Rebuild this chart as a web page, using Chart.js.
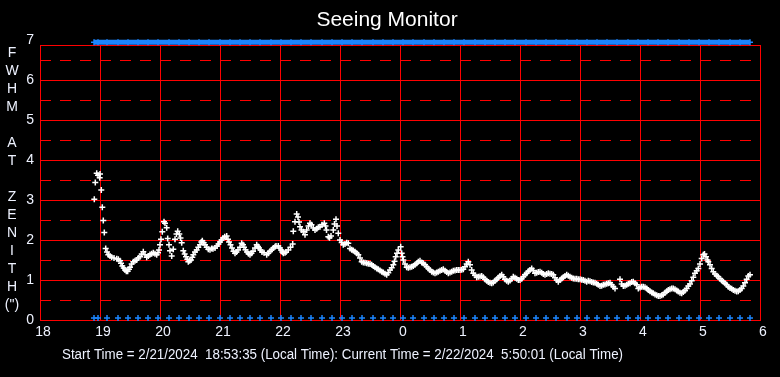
<!DOCTYPE html>
<html lang="en">
<head>
<meta charset="UTF-8">
<title>Seeing Monitor</title>
<script src="https://cdn.jsdelivr.net/npm/chart.js"></script>
<style>
    html, body { margin: 0; padding: 0; background: #000; }
    #wrap { width: 780px; height: 377px; }
</style>
</head>
<body>
<div id="wrap"><canvas id="seeingChart" width="780" height="377"></canvas></div>
<script>
// time is minutes after 18:00 local (run started 2/21/2024 18:53:35)
const seeingMinutes = [
    54.3, 55.3, 56.7, 58, 59.7, 60, 61.3, 62.3, 63.3, 64.3, 65.7, 67, 68.3, 70, 71.7, 74, 76.7, 78.3, 80, 81,
    82.3, 83.7, 85, 86.3, 87.7, 89, 90, 91.7, 93.3, 95, 96.7, 98.3, 100, 101.7, 103.3, 105, 106.7, 108.3, 110, 111.7,
    113.3, 115, 116.7, 118, 119, 120, 121, 122.3, 124, 125, 126.7, 127.7, 129, 130, 131.7, 133.3, 135, 136.5, 137.7, 139.3,
    140.5, 141.7, 143.3, 144.7, 146, 147.3, 148.3, 149.7, 151, 152.3, 153.3, 155, 156.7, 158.3, 160, 161.3, 162.3, 163.7, 165, 166.7,
    168.3, 170, 171.7, 173, 175, 177, 178.5, 180, 181.5, 183, 184.7, 186.7, 188, 189, 190.5, 192, 193.5, 195, 196.5, 198,
    200, 201.7, 203, 204, 205.5, 207, 208.5, 210, 211.5, 213, 215, 216.7, 218, 219, 220.5, 222, 224, 226.7, 228.3, 230,
    231.7, 233.3, 235, 236, 238.3, 240, 241, 242.3, 243.3, 245, 246, 248.3, 250.5, 252.7, 253.3, 255, 256.7, 258, 259, 260,
    261.5, 263.3, 265, 266.7, 268.5, 270, 271.5, 273.3, 275, 276.7, 278.3, 280, 282, 284.3, 285.5, 286.5, 288.3, 289.5, 291, 293.3,
    294.5, 296, 297, 298.3, 300, 301.7, 303.3, 305, 306.7, 308.3, 310, 311.7, 313.3, 315, 316.7, 318.3, 320, 321.7, 323.3, 325,
    326.7, 328.3, 330, 331.7, 333.3, 335, 336.7, 338.3, 340, 341.7, 343.3, 345, 346.7, 348.3, 350, 351.7, 353.3, 354.5, 355.7, 357,
    358.3, 360.7, 361.7, 362.5, 363.3, 365, 366.7, 368.3, 370, 371.7, 373.3, 375, 376.7, 378.3, 380, 381.7, 383.3, 385, 386.7, 388.3,
    390, 391.7, 393.3, 395, 396.7, 398.3, 400, 401.7, 403.3, 405, 406.7, 408.3, 410, 411.7, 413.3, 415, 416.7, 418.3, 420, 421.7,
    423.3, 425, 426.7, 428.3, 430, 431.7, 433.3, 435, 436.7, 438.3, 440, 441.7, 443.3, 445, 446.7, 448.3, 450, 451.7, 453.3, 455,
    456.7, 458.3, 460, 461.7, 463.3, 465, 466.7, 468.3, 470, 471.7, 473.3, 475, 476.7, 478.3, 480, 481.7, 483.3, 485, 486.7, 488.3,
    490, 491.7, 493.3, 495, 496.7, 498.3, 500, 501.7, 503.3, 505, 506.7, 508.3, 510, 511.7, 513.3, 515, 516.7, 518.3, 520, 521.7,
    523.3, 525, 526.7, 528.3, 530, 531.7, 533.3, 535, 536.7, 538.3, 540, 541.7, 543.3, 545, 546.7, 548.3, 550, 551.7, 553.3, 555,
    556.7, 558.3, 560, 561.7, 563.3, 565, 566.7, 568.3, 570, 571.7, 573.3, 575, 580, 581.7, 583.3, 585, 586.7, 588.3, 590, 591.7,
    593.3, 595, 596.7, 598.3, 600, 601.7, 603.3, 605, 606.7, 608.3, 610, 611.7, 613.3, 615, 616.7, 618.3, 620, 621.7, 623.3, 625,
    626.7, 628.3, 630, 631.7, 633.3, 635, 636.7, 638.3, 640, 641.7, 643.3, 645, 646.7, 648.3, 650, 651.7, 653.3, 655, 656.7, 658.3,
    660, 661.7, 663.3, 664.5, 666, 667.5, 668.3, 670, 671.7, 673.3, 675, 676.7, 678.3, 680, 681.7, 683.3, 685, 686.7, 688.3, 690,
    691.7, 693.3, 695, 696.7, 698.3, 700, 701.7, 703.3, 705, 706.7, 708.3, 710
];
const seeingFwhm = [
    3.02, 3.44, 3.67, 3.62, 3.56, 3.65, 3.25, 2.82, 2.49, 2.19, 1.79, 1.70, 1.63, 1.60, 1.57, 1.55, 1.53, 1.52, 1.48, 1.42,
    1.35, 1.30, 1.25, 1.22, 1.22, 1.27, 1.32, 1.40, 1.46, 1.48, 1.50, 1.55, 1.58, 1.65, 1.71, 1.63, 1.57, 1.60, 1.64, 1.66,
    1.68, 1.66, 1.63, 1.68, 1.75, 1.88, 2.02, 2.21, 2.46, 2.42, 2.31, 2.04, 1.88, 1.73, 1.60, 1.77, 2.02, 2.15, 2.22, 2.15,
    2.05, 1.93, 1.73, 1.65, 1.58, 1.52, 1.46, 1.48, 1.50, 1.57, 1.63, 1.70, 1.75, 1.82, 1.88, 1.95, 1.98, 1.93, 1.88, 1.82,
    1.77, 1.76, 1.79, 1.78, 1.80, 1.85, 1.90, 1.95, 2.00, 2.05, 2.08, 2.10, 2.02, 1.95, 1.88, 1.80, 1.72, 1.67, 1.70, 1.75,
    1.82, 1.92, 1.88, 1.82, 1.76, 1.70, 1.66, 1.63, 1.67, 1.72, 1.80, 1.88, 1.84, 1.80, 1.75, 1.70, 1.68, 1.63, 1.67, 1.72,
    1.76, 1.80, 1.83, 1.85, 1.85, 1.80, 1.75, 1.70, 1.67, 1.68, 1.70, 1.75, 1.82, 1.90, 2.22, 2.46, 2.65, 2.58, 2.45, 2.33,
    2.25, 2.21, 2.13, 2.25, 2.35, 2.42, 2.38, 2.30, 2.25, 2.28, 2.32, 2.33, 2.38, 2.42, 2.35, 2.25, 2.08, 2.06, 2.10, 2.25,
    2.40, 2.52, 2.35, 2.17, 2.00, 1.94, 1.88, 1.90, 1.93, 1.92, 1.79, 1.76, 1.74, 1.71, 1.67, 1.63, 1.55, 1.46, 1.44, 1.43,
    1.42, 1.41, 1.40, 1.38, 1.35, 1.32, 1.29, 1.27, 1.24, 1.21, 1.19, 1.16, 1.13, 1.18, 1.25, 1.31, 1.38, 1.47, 1.58, 1.67,
    1.75, 1.83, 1.67, 1.58, 1.50, 1.40, 1.32, 1.31, 1.32, 1.33, 1.35, 1.38, 1.42, 1.46, 1.48, 1.44, 1.42, 1.38, 1.33, 1.29,
    1.25, 1.21, 1.19, 1.17, 1.19, 1.21, 1.23, 1.25, 1.27, 1.23, 1.20, 1.17, 1.19, 1.21, 1.23, 1.24, 1.25, 1.25, 1.25, 1.26,
    1.27, 1.33, 1.40, 1.46, 1.38, 1.25, 1.17, 1.12, 1.07, 1.08, 1.09, 1.10, 1.07, 1.02, 0.98, 0.95, 0.93, 0.92, 0.94, 0.98,
    1.02, 1.06, 1.10, 1.13, 1.08, 1.02, 0.98, 0.96, 0.99, 1.03, 1.08, 1.06, 1.03, 1.00, 1.00, 1.03, 1.08, 1.13, 1.17, 1.22,
    1.25, 1.29, 1.24, 1.17, 1.18, 1.20, 1.21, 1.18, 1.15, 1.13, 1.15, 1.17, 1.16, 1.15, 1.13, 1.06, 1.00, 0.96, 1.00, 1.04,
    1.07, 1.10, 1.13, 1.11, 1.08, 1.06, 1.04, 1.03, 1.03, 1.02, 1.02, 1.01, 1.00, 0.98, 0.96, 0.98, 0.97, 0.95, 0.94, 0.93,
    0.91, 0.88, 0.85, 0.86, 0.88, 0.89, 0.91, 0.92, 0.93, 0.88, 0.83, 0.79, 1.02, 0.90, 0.85, 0.86, 0.88, 0.91, 0.92, 0.95,
    0.96, 0.92, 0.88, 0.79, 0.81, 0.83, 0.83, 0.82, 0.79, 0.75, 0.72, 0.69, 0.67, 0.64, 0.62, 0.60, 0.60, 0.62, 0.64, 0.68,
    0.72, 0.75, 0.77, 0.79, 0.79, 0.77, 0.74, 0.71, 0.68, 0.67, 0.70, 0.74, 0.79, 0.85, 0.90, 0.98, 1.07, 1.17, 1.23, 1.29,
    1.40, 1.54, 1.63, 1.65, 1.58, 1.50, 1.46, 1.38, 1.29, 1.21, 1.15, 1.11, 1.08, 1.03, 0.99, 0.96, 0.92, 0.88, 0.83, 0.80,
    0.78, 0.75, 0.73, 0.71, 0.72, 0.75, 0.79, 0.85, 0.93, 1.02, 1.10, 1.13
];

// blue status markers (sample times, minutes after 18:00)
const statusMinutes = [
    54, 58, 67, 78, 88, 98, 108, 118, 129, 139, 149, 159, 169, 180, 190, 200, 210, 220, 231, 241,
    251, 261, 271, 282, 292, 302, 312, 322, 333, 343, 353, 363, 373, 384, 394, 404, 414, 424, 435, 445,
    455, 465, 475, 486, 496, 506, 516, 527, 537, 547, 557, 567, 577, 588, 598, 608, 618, 628, 639, 649,
    659, 669, 679, 690, 700, 710
];
const statusTopLevel = 6.95;
const statusBottomLevel = 0.05;

const hourLabels = ['18', '19', '20', '21', '22', '23', '0', '1', '2', '3', '4', '5', '6'];
const fwhmTicks = [0, 1, 2, 3, 4, 5, 6, 7];
const halfLines = [0.5, 1.5, 2.5, 3.5, 4.5, 5.5, 6.5];
const yLetters = ['F', 'W', 'H', 'M', '', 'A', 'T', '', 'Z', 'E', 'N', 'I', 'T', 'H', '(")'];

const titleText = 'Seeing Monitor';
const footerText = 'Start Time = 2/21/2024  18:53:35 (Local Time): Current Time = 2/22/2024  5:50:01 (Local Time)';

const RED = '#ff0000';
const BLUE = '#1c86ff';
const TEXT = '#eef2ff';
const sansFont = "'Liberation Sans', Arial, sans-serif";

const decorPlugin = {
    id: 'decor',
    beforeDraw(chart) {
        const ctx = chart.ctx;
        ctx.save();
        ctx.fillStyle = '#000';
        ctx.fillRect(0, 0, chart.width, chart.height);
        ctx.restore();
    },
    beforeDatasetsDraw(chart) {
        const ctx = chart.ctx;
        const area = chart.chartArea;
        const y = chart.scales.y;
        ctx.save();
        ctx.strokeStyle = RED;
        ctx.lineWidth = 1;
        ctx.setLineDash([11, 9]);
        halfLines.forEach(v => {
            const py = Math.round(y.getPixelForValue(v)) + 0.5;
            ctx.beginPath();
            ctx.moveTo(area.left, py);
            ctx.lineTo(area.right, py);
            ctx.stroke();
        });
        ctx.setLineDash([]);
        ctx.beginPath();
        ctx.moveTo(area.left, Math.round(area.top) + 0.5);
        ctx.lineTo(area.right, Math.round(area.top) + 0.5);
        ctx.stroke();
        ctx.restore();
    },
    afterDraw(chart) {
        const ctx = chart.ctx;
        ctx.save();
        ctx.fillStyle = '#fff';
        ctx.textAlign = 'center';
        ctx.textBaseline = 'middle';
        ctx.font = '21px ' + sansFont;
        ctx.fillText(titleText, 387, 20);

        ctx.fillStyle = TEXT;
        ctx.font = '14px ' + sansFont;
        yLetters.forEach((ch, i) => {
            if (ch) ctx.fillText(ch, 12, 53 + i * 18.04);
        });

        // the original uses a condensed face; squeeze to its width
        ctx.textAlign = 'left';
        ctx.font = '14px ' + sansFont;
        const w = ctx.measureText(footerText).width;
        ctx.translate(62, 355);
        ctx.scale(561 / w, 1);
        ctx.fillText(footerText, 0, 0);
        ctx.restore();
    }
};

new Chart(document.getElementById('seeingChart'), {
    type: 'scatter',
    data: {
        datasets: [
            {
                label: 'FWHM',
                data: seeingMinutes.map((m, i) => ({ x: m, y: seeingFwhm[i] })),
                pointStyle: 'cross',
                pointRadius: 3,
                borderWidth: 1.5,
                borderColor: '#fff',
                clip: false
            },
            {
                label: 'status top',
                data: statusMinutes.map(m => ({ x: m, y: statusTopLevel })),
                showLine: true,
                borderColor: BLUE,
                borderWidth: 5,
                pointStyle: 'cross',
                pointRadius: 3,
                pointBorderWidth: 1.5,
                clip: false
            },
            {
                label: 'status bottom',
                data: statusMinutes.map(m => ({ x: m, y: statusBottomLevel })),
                pointStyle: 'cross',
                pointRadius: 3,
                borderWidth: 1.5,
                borderColor: BLUE,
                clip: false
            }
        ]
    },
    options: {
        responsive: false,
        animation: false,
        layout: { padding: { left: 0, top: 45, right: 20, bottom: 0 } },
        plugins: { legend: { display: false }, tooltip: { enabled: false } },
        scales: {
            x: {
                type: 'linear',
                min: 0,
                max: 720,
                afterFit: s => { s.height = 57; },
                grid: { color: RED, lineWidth: 1, drawTicks: false },
                border: { color: RED, width: 1 },
                ticks: {
                    stepSize: 60,
                    padding: 4,
                    labelOffset: 3,
                    color: TEXT,
                    font: { family: sansFont, size: 14 },
                    maxRotation: 0,
                    autoSkip: false,
                    callback: (v, i) => hourLabels[i]
                }
            },
            y: {
                min: 0,
                max: 6.88,
                afterFit: s => { s.width = 40; },
                afterBuildTicks: s => { s.ticks = fwhmTicks.map(v => ({ value: v })); },
                grid: {
                    color: c => (c.tick && c.tick.value > 6.9 ? 'rgba(0,0,0,0)' : RED),
                    lineWidth: 1,
                    drawTicks: false
                },
                border: { color: RED, width: 1 },
                ticks: {
                    padding: 6,
                    color: TEXT,
                    font: { family: sansFont, size: 14 },
                    autoSkip: false,
                    callback: v => String(v)
                }
            }
        }
    },
    plugins: [decorPlugin]
});
</script>
</body>
</html>
